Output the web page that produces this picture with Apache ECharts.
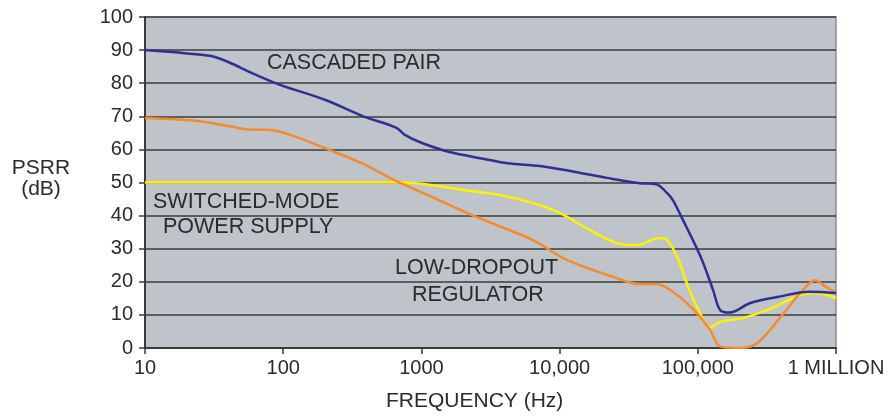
<!DOCTYPE html>
<html>
<head>
<meta charset="utf-8">
<script src="https://cdn.jsdelivr.net/npm/echarts@6/dist/echarts.min.js"></script>
<style>
  html, body { margin: 0; padding: 0; background: #ffffff; }
  #chart { width: 895px; height: 419px; }
</style>
</head>
<body>
<div id="chart"></div>
<script>
// PSRR (dB) versus frequency (Hz) for three supply topologies
const cascadedFreq = [10, 20, 30, 40, 60, 95, 200, 380, 660, 760, 1000, 1600, 2800, 4200, 7200, 13000, 22000, 38000, 50000, 60000, 66000, 78000, 105000, 129000, 145000, 170000, 240000, 375000, 645000, 1000000];
const cascadedPSRR = [90, 89, 88.2, 86.4, 83, 79.5, 75, 70, 66.5, 64.4, 62, 59.2, 57.2, 55.8, 55, 53.2, 51.4, 49.8, 49.5, 46.8, 44.7, 38.7, 27.5, 17.5, 11.5, 10.7, 13.6, 15.4, 17, 16.6];

const ldoFreq = [10, 24, 41, 60, 76, 107, 218, 380, 660, 1200, 2500, 6400, 11300, 26000, 38000, 50000, 71000, 98000, 123000, 145000, 200000, 270000, 420000, 550000, 710000, 810000, 1000000];
const ldoPSRR = [69.5, 68.6, 67, 65.9, 65.9, 64.7, 59.8, 55.6, 50.4, 45.6, 39.6, 32.6, 26.6, 21.1, 19.3, 19.3, 16, 10.6, 5.4, 0.5, 0, 1.5, 10.6, 16.6, 20.5, 19, 16.6];

const smpsFreq = [10, 100, 700, 1000, 2140, 3700, 6400, 10000, 16600, 26000, 36000, 53000, 60000, 71000, 87000, 110000, 123000, 145000, 214000, 320000, 550000, 700000, 1000000];
const smpsPSRR = [50, 50, 50, 49.6, 47.6, 46.2, 43.8, 40.8, 35.6, 31.7, 31.1, 33.2, 32.6, 27.5, 17.5, 8.5, 6.3, 7.9, 9.1, 11.5, 16, 16.6, 15.1];

const freqTickLabels = { 10: '10', 100: '100', 1000: '1000', 10000: '10,000', 100000: '100,000', 1000000: '1 MILLION' };

const pairs = (xs, ys) => xs.map((x, i) => [x, ys[i]]);

const FONT = '"Liberation Sans", Arial, sans-serif';
const TEXT = '#2b2b2b';
const NOTE = '21.5px ' + FONT;

const chart = echarts.init(document.getElementById('chart'), null, { renderer: 'canvas' });

chart.setOption({
  animation: false,
  backgroundColor: '#ffffff',
  grid: {
    left: 145, right: 59, top: 17, bottom: 71,
    show: true,
    backgroundColor: '#bfc3ca',
    borderColor: '#8d8f93',
    borderWidth: 1.5
  },
  xAxis: {
    type: 'log',
    logBase: 10,
    min: 10,
    max: 1000000,
    axisLine: { show: true, lineStyle: { color: '#3a3a3a', width: 2 } },
    axisTick: { show: true, inside: false, length: 6, lineStyle: { color: '#3a3a3a', width: 1.5 } },
    minorTick: { show: false },
    splitLine: { show: false },
    axisLabel: {
      color: TEXT, fontFamily: FONT, fontSize: 20, margin: 10,
      formatter: v => freqTickLabels[Math.round(v)] || ''
    }
  },
  yAxis: {
    type: 'value',
    min: 0, max: 100, interval: 10,
    axisLine: { show: true, lineStyle: { color: '#3a3a3a', width: 2 } },
    axisTick: { show: true, inside: false, length: 6, lineStyle: { color: '#3a3a3a', width: 1.5 } },
    splitLine: { show: true, lineStyle: { color: '#3c3c3c', width: 1.6 } },
    axisLabel: { color: TEXT, fontFamily: FONT, fontSize: 20, margin: 12 }
  },
  series: [
    {
      name: 'SWITCHED-MODE POWER SUPPLY',
      type: 'line',
      data: pairs(smpsFreq, smpsPSRR),
      showSymbol: false,
      smooth: 0.35,
      lineStyle: { color: '#fff200', width: 2.5 },
      z: 3
    },
    {
      name: 'LOW-DROPOUT REGULATOR',
      type: 'line',
      data: pairs(ldoFreq, ldoPSRR),
      showSymbol: false,
      smooth: 0.35,
      lineStyle: { color: '#f58a2e', width: 2.5 },
      z: 4
    },
    {
      name: 'CASCADED PAIR',
      type: 'line',
      data: pairs(cascadedFreq, cascadedPSRR),
      showSymbol: false,
      smooth: 0.35,
      lineStyle: { color: '#2e3192', width: 2.5 },
      z: 5
    }
  ],
  graphic: [
    { type: 'text', left: 267, top: 52, style: { text: 'CASCADED PAIR', fill: TEXT, font: NOTE } },
    { type: 'text', left: 153, top: 191, style: { text: 'SWITCHED-MODE', fill: TEXT, font: NOTE } },
    { type: 'text', left: 163, top: 216, style: { text: 'POWER SUPPLY', fill: TEXT, font: NOTE } },
    { type: 'text', left: 395, top: 257, style: { text: 'LOW-DROPOUT', fill: TEXT, font: NOTE } },
    { type: 'text', left: 412, top: 284, style: { text: 'REGULATOR', fill: TEXT, font: NOTE } },
    { type: 'text', left: 386, top: 391, style: { text: 'FREQUENCY (Hz)', fill: TEXT, font: '21px ' + FONT } },
    { type: 'text', x: 41, y: 168, style: { text: 'PSRR', fill: TEXT, font: '21px ' + FONT, align: 'center', verticalAlign: 'middle' } },
    { type: 'text', x: 41, y: 189, style: { text: '(dB)', fill: TEXT, font: '21px ' + FONT, align: 'center', verticalAlign: 'middle' } }
  ]
});
</script>
</body>
</html>
